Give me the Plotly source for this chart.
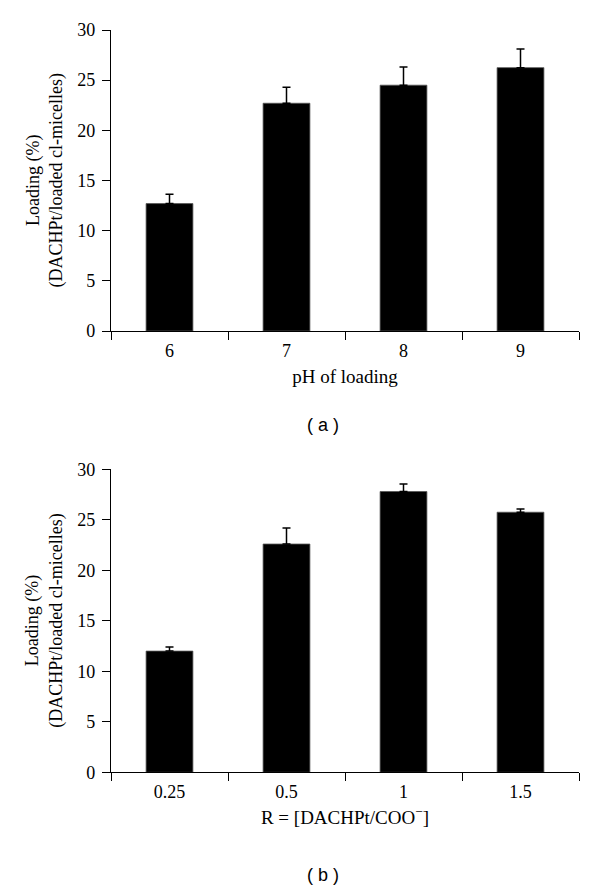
import plotly.graph_objects as go

# Panel (a)
ph_labels = ["6", "7", "8", "9"]
ph_loading = [12.7, 22.7, 24.5, 26.25]
ph_err = [0.93, 1.6, 1.8, 1.85]

# Panel (b)
r_labels = ["0.25", "0.5", "1", "1.5"]
r_loading = [12.0, 22.6, 27.8, 25.75]
r_err = [0.4, 1.6, 0.75, 0.33]

y_ticks = [0, 5, 10, 15, 20, 25, 30]

SERIF = "Liberation Serif, Times New Roman, serif"
SANS = "Liberation Sans, Arial, sans-serif"

fig = go.Figure()

def bar(x, y, err, xa, ya):
    return go.Bar(
        x=x, y=y, xaxis=xa, yaxis=ya,
        marker=dict(color="black", line=dict(color="#555", width=0.8)),
        width=0.4,
        error_y=dict(type="data", array=err, symmetric=False,
                     arrayminus=[0] * len(err), color="black",
                     thickness=1.5, width=4),
        showlegend=False,
    )

fig.add_trace(bar(ph_labels, ph_loading, ph_err, "x", "y"))
fig.add_trace(bar(r_labels, r_loading, r_err, "x2", "y2"))

W, H = 600, 891
xdom = [111 / W, 579 / W]
top_dom = [1 - 331 / H, 1 - 30 / H]
bot_dom = [1 - 772.3 / H, 1 - 469.3 / H]

axis_common = dict(
    showline=True, linecolor="black", linewidth=1.3,
    ticks="outside", ticklen=8, tickwidth=1.3, tickcolor="black",
    showgrid=False, zeroline=False, automargin=False,
    tickfont=dict(family=SERIF, size=18, color="black"),
)

fig.update_layout(
    width=W, height=H,
    margin=dict(l=0, r=0, t=0, b=0),
    paper_bgcolor="white", plot_bgcolor="white",
    xaxis=dict(domain=xdom, anchor="y", type="category",
               tickson="boundaries", range=[-0.5, 3.5], ticklabelstandoff=3,
               title=dict(text="pH of loading", standoff=9,
                          font=dict(family=SERIF, size=19, color="black")),
               **axis_common),
    yaxis=dict(domain=top_dom, anchor="x", range=[0, 30], tickvals=y_ticks,
               ticklabelstandoff=3, **axis_common),
    xaxis2=dict(domain=xdom, anchor="y2", type="category",
                tickson="boundaries", range=[-0.5, 3.5], ticklabelstandoff=3,
                title=dict(text="R = [DACHPt/COO<sup>−</sup>]", standoff=9,
                           font=dict(family=SERIF, size=19, color="black")),
                **axis_common),
    yaxis2=dict(domain=bot_dom, anchor="x2", range=[0, 30], tickvals=y_ticks,
                ticklabelstandoff=3, **axis_common),
)

ytitle = "Loading (%)<br>(DACHPt/loaded cl-micelles)"
for ymid in [(30 + 331) / 2, (469.3 + 772.3) / 2]:
    fig.add_annotation(
        text=ytitle, xref="paper", yref="paper",
        x=44 / W, y=1 - ymid / H, textangle=-90, showarrow=False,
        font=dict(family=SERIF, size=18, color="black"),
        xanchor="center", yanchor="middle",
    )

for label, ypix in [("( a )", 425), ("( b )", 875)]:
    fig.add_annotation(
        text=label, xref="paper", yref="paper",
        x=323 / W, y=1 - ypix / H, showarrow=False,
        font=dict(family=SANS, size=18, color="black"),
        xanchor="center", yanchor="middle",
    )

fig.write_html(
    "out.html",
    config={"displayModeBar": False},
    post_script="document.body.style.margin='0px';document.body.style.overflow='hidden';",
)
